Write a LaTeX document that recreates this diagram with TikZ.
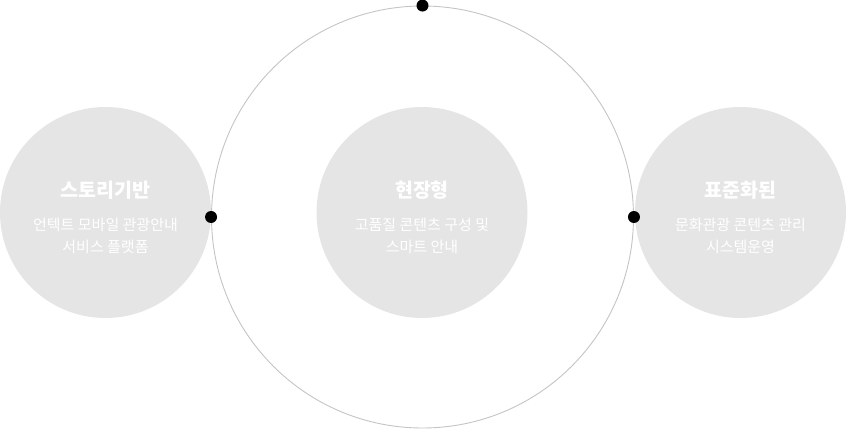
\documentclass[tikz,border=0pt]{standalone}
\usepackage{fontspec}
\setmainfont{Noto Sans CJK KR}
\definecolor{blobgray}{HTML}{E5E5E5}
\definecolor{ringgray}{HTML}{C4C4C4}
\tikzset{
  blob/.style={circle,fill=blobgray,minimum size=211pt,inner sep=0pt},
  pin/.style={circle,fill=black,minimum size=12pt,inner sep=0pt},
  head/.style={text=white,font=\fontsize{19.5}{22}\selectfont\bfseries},
  body/.style={text=white,align=center,font=\fontsize{15}{21.5}\selectfont}
}
\begin{document}
\begin{tikzpicture}
[x=1pt,y=-1pt]
\useasboundingbox (0,0) rectangle (846,431);
\node (ring) at (422.5,217) [circle,draw=ringgray,line width=0.9pt,minimum size=422pt,inner sep=0pt] {};

\node[blob] (story) at (105.5,212.5) {};
\node[blob] (field) at (422,212.5) {};
\node[blob] (std) at (740.5,212.5) {};

\node[head] (storyt) at (105.5,190) {스토리기반};
\node[body] (storyb) at (105.5,236) {언텍트 모바일 관광안내\\서비스 플랫폼};
\node[head] (fieldt) at (422,190) {현장형};
\node[body] (fieldb) at (422,236) {고품질 콘텐츠 구성 및\\스마트 안내};
\node[head] (stdt) at (740.5,190) {표준화된};
\node[body] (stdb) at (740.5,236) {문화관광 콘텐츠 관리\\시스템운영};

\node[pin] (ptop) at (ring.north) {};
\node[pin] (pleft) at (ring.west) {};
\node[pin] (pright) at (ring.east) {};
\end{tikzpicture}
\end{document}
